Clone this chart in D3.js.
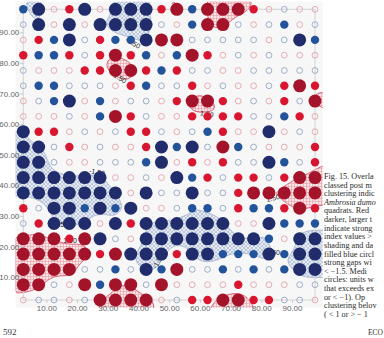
<!DOCTYPE html>
<html><head><meta charset="utf-8">
<script src="https://cdn.jsdelivr.net/npm/d3@7"></script>
<style>body{margin:0;background:#fff;}svg{display:block}</style>
</head><body><svg id="c" width="384" height="338"></svg>
<script>
// ---- data ----
const gridX = [2.5,7.5,12.5,17.5,22.5,27.5,32.5,37.5,42.5,47.5,52.5,57.5,62.5,67.5,72.5,77.5,82.5,87.5,92.5,97.5];
const gridY = [97.5,92.5,87.5,82.5,77.5,72.5,67.5,62.5,57.5,52.5,47.5,42.5,37.5,32.5,27.5,22.5,17.5,12.5,7.5,2.5];
const xTicks = [10,20,30,40,50,60,70,80,90];
const yTicks = [10,20,30,40,50,60,70,80,90];
// class codes per row (top row first): R >1.5, r 1..1.5, p 0..1, q -1..0, b -1.5..-1, B < -1.5
const classRows = [
 "bBprBpBBBrRbRRRrpqpp",
 "qBpBpBBBBqpbRRqpqbpq",
 "prbBqrbbBRRqqqqqpqBb",
 "rbbrqrRrbpbRrpqpqppp",
 "qppprrRRrbrqqppqqqqq",
 "qbbqqqprbqqrpqppqrRr",
 "pqbBpbpqqprRRrpqprqR",
 "pppqpbRrqpprrrrqqbrp",
 "BrrpqpqrrqpqbrppBpqp",
 "BBqrpqpprBbBqRbqpppr",
 "BBqppqqqbBprprqqBbqr",
 "BBBBBBppqpBbrqrrqrRR",
 "BBBBBBBpBqqBqqrRRRRR",
 "rqBBbBbBppqbbqrbbrRr",
 "qrBBBpBrBBBBBBppBbbb",
 "RRRrRBqpBBBBBBBBbpBB",
 "RRRRRrRBBBrBBbbbBbBB",
 "RRRRqqbqBbRqqbqbqbBB",
 "RRqpRbRRqRpppprpppqq",
 "pqqpqRRRRpqrrRRrrqqp"
];
const classIndex = {R: 2.4, r: 1.25, p: 0.5, q: -0.5, b: -1.25, B: -2.4};
const contourLevel = 1.5;
const contourLabels = [
 {x:38.2, y:86.5, text:"-1.50", a:30},
 {x:34.0, y:75.0, text:"1.50", a:30},
 {x:26.5, y:44.3, text:"-1.50", a:10},
 {x:62.3, y:63.3, text:"1.50", a:10},
 {x:83.8, y:35.8, text:"1.50", a:-15},
 {x:17.7, y:21.8, text:"1.50", a:0},
 {x:14.5, y:27.3, text:"-1.50", a:0},
 {x:46.4, y:15.2, text:"-1.50", a:-60},
 {x:83.5, y:17.9, text:"-1.50", a:0}
];
const captionLines = [
 "Fig. 15. Overla","classed post m","clustering indic","Ambrosia dumo","quadrats. Red",
 "darker, larger t","indicate strong","index values >","shading and da","filled blue circl",
 "strong gaps wi","< \u22121.5. Medi","circles: units w","that exceeds ex","or < \u22121). Op",
 "clustering belov","( < 1 or > \u2212 1"
];
const pageNumber = "592";
const runningHead = "ECO";

// ---- drawing ----
const svg = d3.select("#c");
const x = d3.scaleLinear().domain([2.5,97.5]).range([23.3,315]);
const y = d3.scaleLinear().domain([2.5,97.5]).range([300,9.3]);

const defs = svg.append("defs");
const pr = defs.append("pattern").attr("id","hatchR").attr("patternUnits","userSpaceOnUse").attr("width",3).attr("height",3);
pr.append("rect").attr("width",3).attr("height",3).attr("fill","#fbe6e8");
pr.append("path").attr("d","M0,0.5H3M0.5,0V3").attr("stroke","#e79aa3").attr("stroke-width",0.6);
const pb = defs.append("pattern").attr("id","hatchB").attr("patternUnits","userSpaceOnUse").attr("width",4).attr("height",4);
pb.append("rect").attr("width",4).attr("height",4).attr("fill","#e6ebf3");
pb.append("path").attr("d","M0,0L4,4M4,0L0,4").attr("stroke","#9fb1cf").attr("stroke-width",0.6);
defs.append("clipPath").attr("id","plotClip").append("rect")
  .attr("x",x(0)).attr("y",y(100)).attr("width",x(100)-x(0)).attr("height",y(0)-y(100));

// plot background
svg.append("rect").attr("x",x(0)).attr("y",y(100)).attr("width",x(100)-x(0)).attr("height",y(0)-y(100)).attr("fill","#f7f7f7");

// contour surface from class values
const N = 101;
const vals = new Float64Array(N*N);
const cellVal = (r,c) => classIndex[classRows[r][c]];
for (let j=0;j<N;j++){
  const dv = 100 - j;
  const fr = Math.max(0, Math.min(19, (97.5 - dv)/5));
  const r0 = Math.min(18, Math.floor(fr)), tr = fr - r0;
  for (let i=0;i<N;i++){
    const fc = Math.max(0, Math.min(19, (i - 2.5)/5));
    const c0 = Math.min(18, Math.floor(fc)), tc = fc - c0;
    const v = (1-tr)*((1-tc)*cellVal(r0,c0) + tc*cellVal(r0,c0+1)) + tr*((1-tc)*cellVal(r0+1,c0) + tc*cellVal(r0+1,c0+1));
    vals[j*N+i] = v;
  }
}
d3.blur2({data: vals, width: N, height: N}, 2);
const neg = vals.map(v => -v);
const proj = d3.geoTransform({point(px,py){ this.stream.point(x(px), y(100-py)); }});
const path = d3.geoPath(proj);
const cg = svg.append("g").attr("clip-path","url(#plotClip)");
const redC = d3.contours().size([N,N]).thresholds([contourLevel])(vals);
const blueC = d3.contours().size([N,N]).thresholds([contourLevel])(neg);
cg.selectAll("path.b").data(blueC).join("path").attr("d",path).attr("fill","url(#hatchB)").attr("stroke","#9fb0cd").attr("stroke-width",0.8);
cg.selectAll("path.r").data(redC).join("path").attr("d",path).attr("fill","url(#hatchR)").attr("stroke","#d0455a").attr("stroke-width",0.8);

// frame
svg.append("rect").attr("x",x(2.5)).attr("y",y(97.5)).attr("width",x(97.5)-x(2.5)).attr("height",y(2.5)-y(97.5))
  .attr("fill","none").attr("stroke","#d4d4d4").attr("stroke-width",1);

// axes
const fmt = d3.format(".2f");
const ax = svg.append("g").attr("transform",`translate(0,${y(2.5)})`).call(d3.axisBottom(x).tickValues(xTicks).tickFormat(fmt).tickSize(3).tickPadding(2));
const ay = svg.append("g").attr("transform",`translate(${x(2.5)},0)`).call(d3.axisLeft(y).tickValues(yTicks).tickFormat(fmt).tickSize(3).tickPadding(1));
[ax,ay].forEach(g=>{
  g.select(".domain").remove();
  g.selectAll("line").attr("stroke","#c8c8c8");
  g.selectAll("text").attr("fill","#666").style("font-family","Liberation Sans, Arial, sans-serif").style("font-size","8px");
});

// contour labels (under circles)
svg.append("g").selectAll("text").data(contourLabels).join("text")
  .attr("transform",d=>`translate(${x(d.x)},${y(d.y)}) rotate(${d.a})`)
  .attr("text-anchor","middle").attr("dy","0.35em")
  .style("font-family","Liberation Sans, Arial, sans-serif").style("font-size","7px").attr("fill","#222")
  .text(d=>d.text);

// circles
const style = {
  R:{r:6.5, fill:"#a3142b", stroke:"none"},
  r:{r:4.2, fill:"#d8162f", stroke:"none"},
  p:{r:2.9, fill:"none", stroke:"#e4a2ac"},
  q:{r:2.9, fill:"none", stroke:"#93a6c4"},
  b:{r:4.2, fill:"#22539b", stroke:"none"},
  B:{r:6.5, fill:"#202c6b", stroke:"none"}
};
const cells = [];
classRows.forEach((row,ri)=>{ for (let ci=0;ci<20;ci++) cells.push({cx:gridX[ci], cy:gridY[ri], k:row[ci]}); });
svg.append("g").selectAll("circle").data(cells).join("circle")
  .attr("cx",d=>x(d.cx)).attr("cy",d=>y(d.cy)).attr("r",d=>style[d.k].r)
  .attr("fill",d=>style[d.k].fill).attr("stroke",d=>style[d.k].stroke).attr("stroke-width",0.9);

// caption
const cap = svg.append("g").style("font-family","Liberation Serif, Times New Roman, serif").style("font-size","8.2px");
cap.selectAll("text").data(captionLines).join("text")
  .attr("x",324).attr("y",(d,i)=>179 + i*8.62)
  .attr("fill","#2a2a2a")
  .style("font-style",(d,i)=> i===3 ? "italic" : "normal")
  .text(d=>d);
svg.append("text").attr("x",3).attr("y",335).style("font-family","Liberation Serif, serif").style("font-size","9px").attr("fill","#333").text(pageNumber);
svg.append("text").attr("x",383).attr("y",335).attr("text-anchor","end").style("font-family","Liberation Serif, serif").style("font-size","7.5px").attr("fill","#333").text(runningHead);
</script></body></html>
